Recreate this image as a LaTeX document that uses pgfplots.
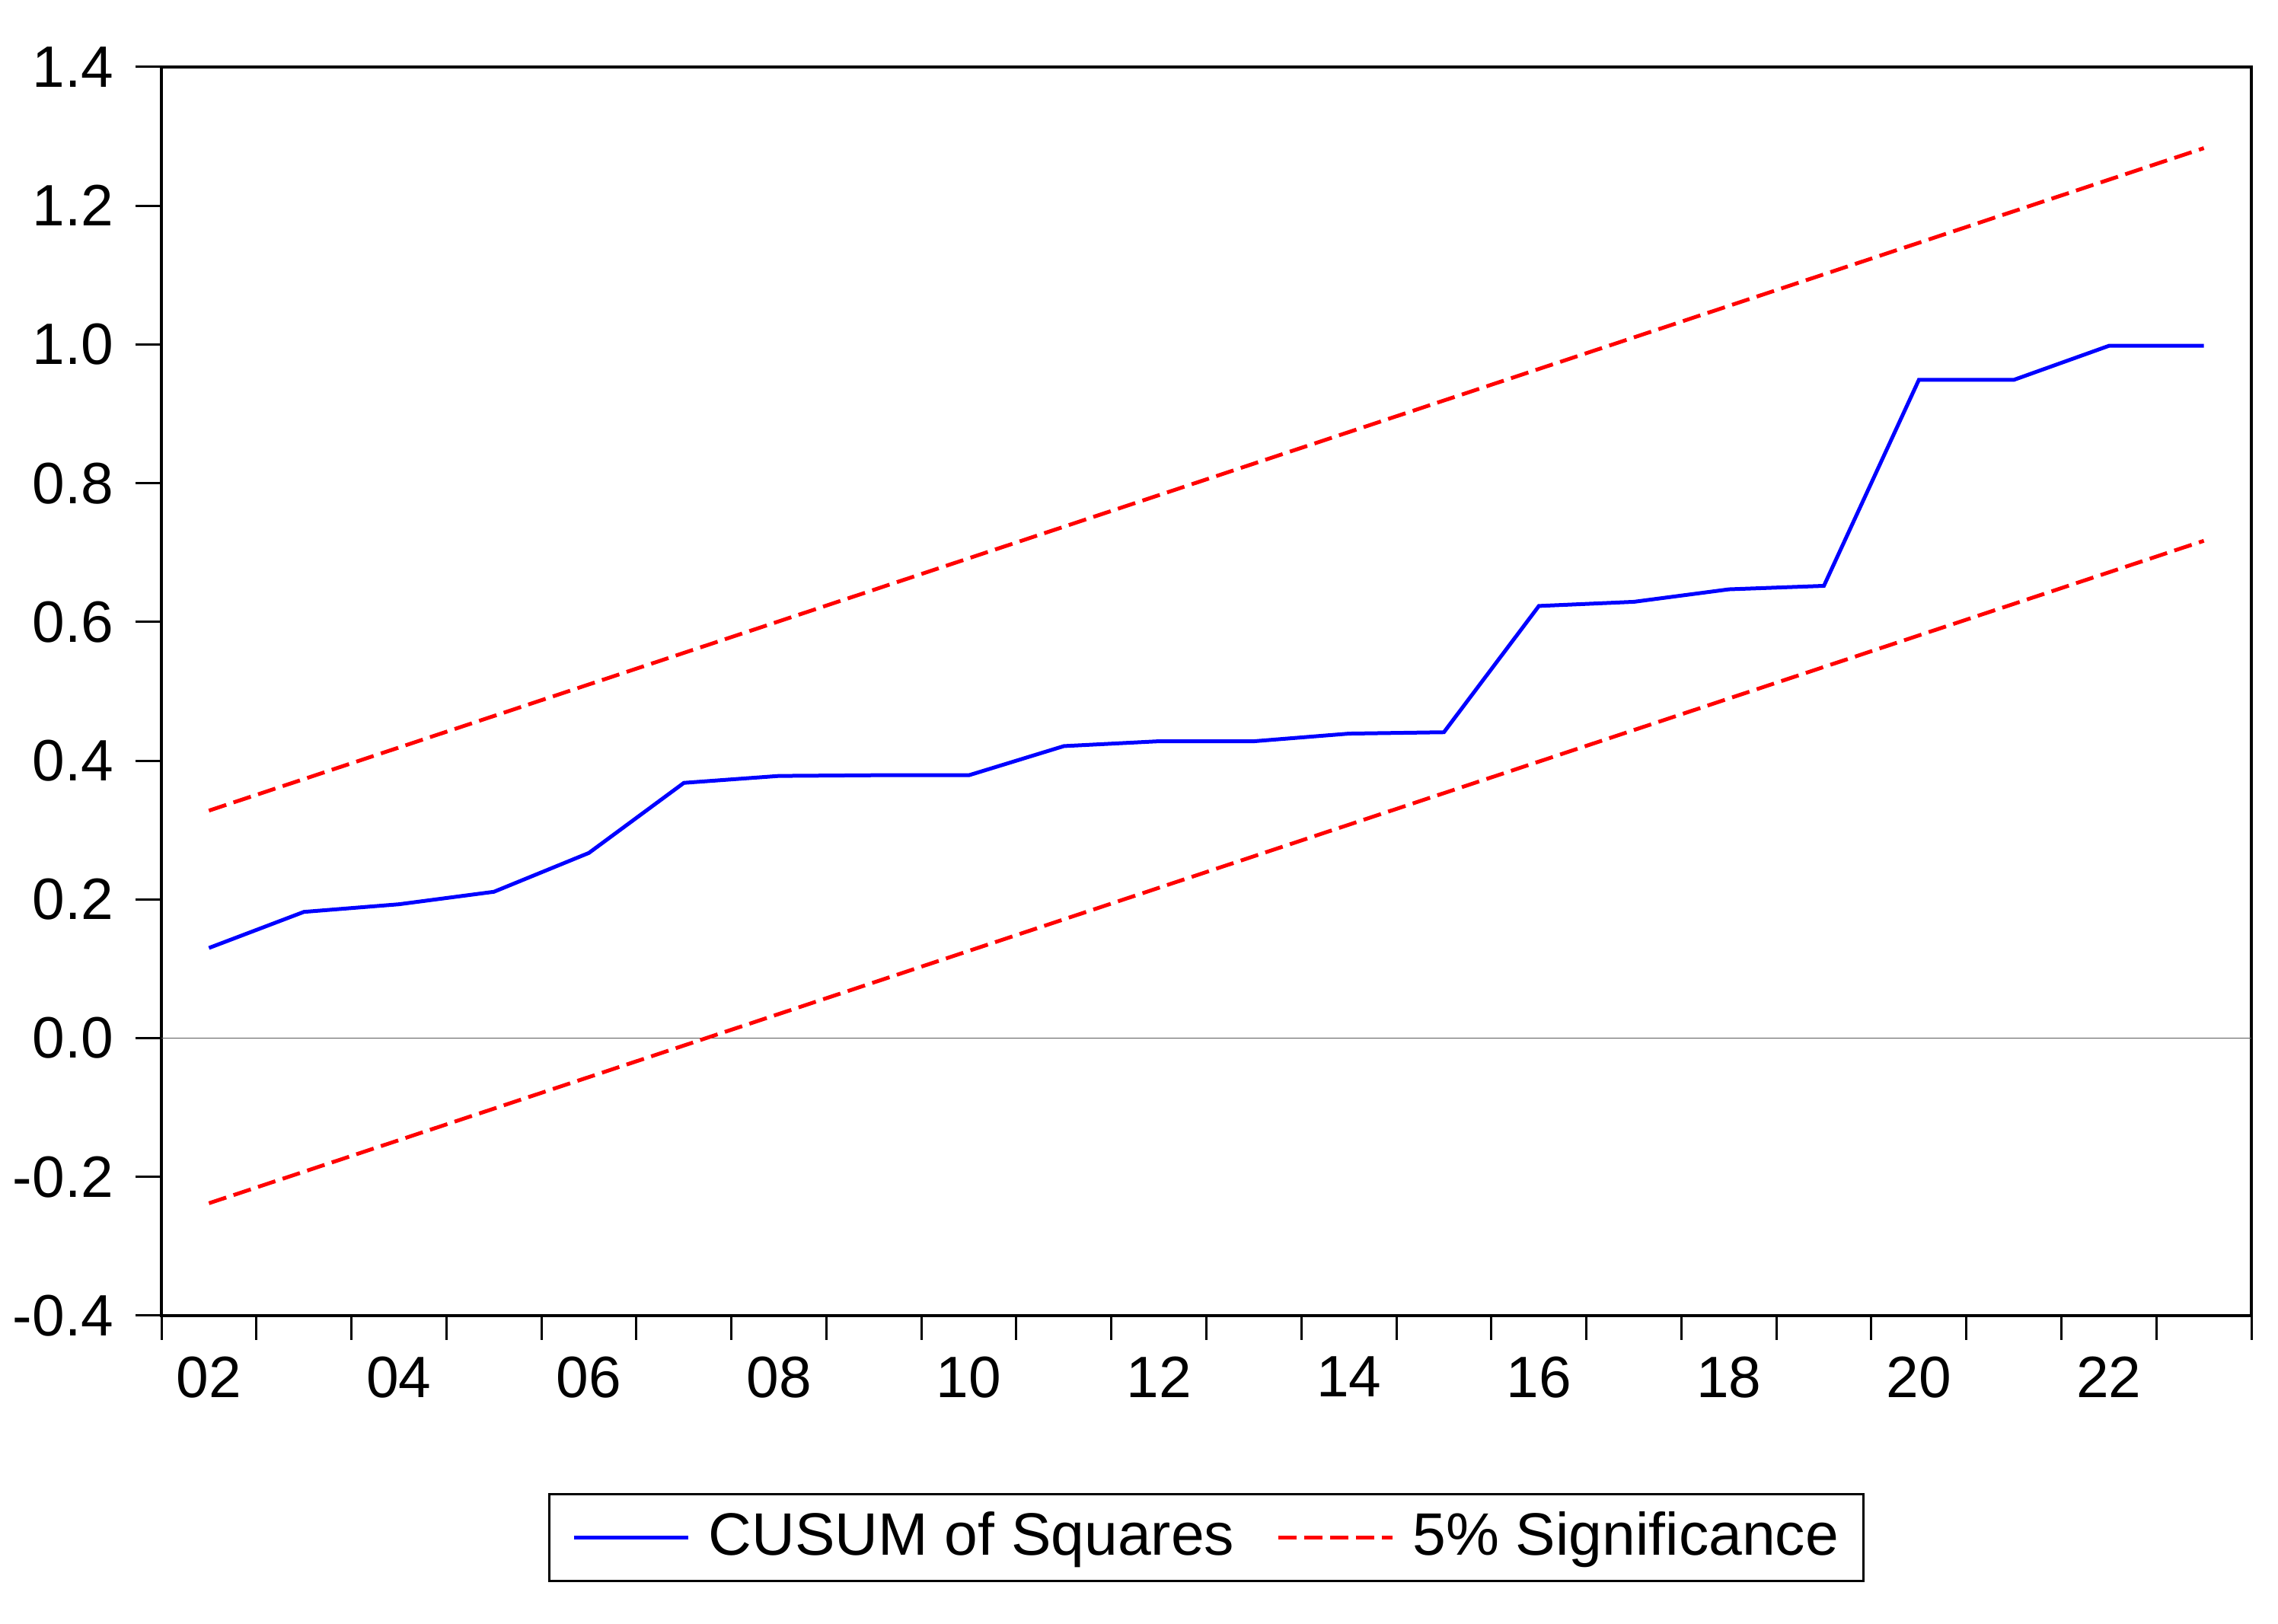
\documentclass[border=0pt]{standalone}
\usepackage{fontspec}
\setmainfont{Liberation Sans}
\usepackage{pgfplots}
\pgfplotsset{compat=1.18}
\definecolor{cusumblue}{RGB}{0,0,255}
\definecolor{sigred}{RGB}{255,0,0}

% CUSUM of squares, 2002--2023 (x = 0.5 ... 21.5)
\pgfplotstableread{
x    cusum
0.5  0.130
1.5  0.182
2.5  0.193
3.5  0.211
4.5  0.267
5.5  0.368
6.5  0.378
7.5  0.379
8.5  0.379
9.5  0.421
10.5 0.428
11.5 0.428
12.5 0.439
13.5 0.441
14.5 0.623
15.5 0.629
16.5 0.647
17.5 0.652
18.5 0.949
19.5 0.949
20.5 0.998
21.5 0.998
}\cusumdata

\begin{document}
\begin{tikzpicture}
\begin{axis}[
  name=ax,
  scale only axis,
  width=411.75pt, height=246pt,
  xmin=0, xmax=22,
  ymin=-0.4, ymax=1.4,
  axis line style={line width=0.65pt},
  tick align=outside,
  xtick pos=bottom, ytick pos=left,
  major tick length=5.1pt,
  minor tick length=4.8pt,
  tick style={line width=0.45pt, black},
  xtick={0.5,2.5,4.5,6.5,8.5,10.5,12.5,14.5,16.5,18.5,20.5},
  xticklabels={02,04,06,08,10,12,14,16,18,20,22},
  major x tick style={draw=none},
  minor xtick={0,1,...,22},
  ytick={-0.4,-0.2,0,0.2,0.4,0.6,0.8,1.0,1.2,1.4},
  yticklabels={-0.4,-0.2,0.0,0.2,0.4,0.6,0.8,1.0,1.2,1.4},
  ticklabel style={font=\fontsize{11.5}{13}\selectfont},
  xticklabel style={yshift=0.6pt},
  yticklabel style={xshift=-0.8pt},
  legend columns=2,
  legend style={
    at={(axis description cs:0.5,-0.142)}, anchor=north,
    draw=black, line width=0.45pt,
    font=\fontsize{11.8}{14}\selectfont,
    inner xsep=2.8pt, inner ysep=1.5pt,
    /tikz/every even column/.append style={column sep=4.6pt},
  },
  legend image code/.code={
    \path[draw=none] (-2pt,0pt) -- (24.5pt,0pt);
    \draw[#1] (0pt,0pt) -- (22.5pt,0pt);},
]
\addplot[gray!70!black, line width=0.25pt, forget plot] coordinates {(0,0) (22,0)};
\addplot[cusumblue, line width=0.75pt] table[x=x, y=cusum] {\cusumdata};
\addlegendentry{CUSUM of Squares}
\addplot[sigred, line width=0.75pt, dash pattern=on 3.6pt off 1.5pt] coordinates {(0.5,0.328) (21.5,1.283)};
\addlegendentry{5\% Significance}
\addplot[sigred, line width=0.75pt, dash pattern=on 3.6pt off 1.5pt, forget plot] coordinates {(0.5,-0.238) (21.5,0.717)};
\end{axis}
\pgfresetboundingbox
\path (ax.south west) ++(-31.8pt,-60.75pt) rectangle ++(448.8pt,319.95pt);
\end{tikzpicture}
\end{document}
